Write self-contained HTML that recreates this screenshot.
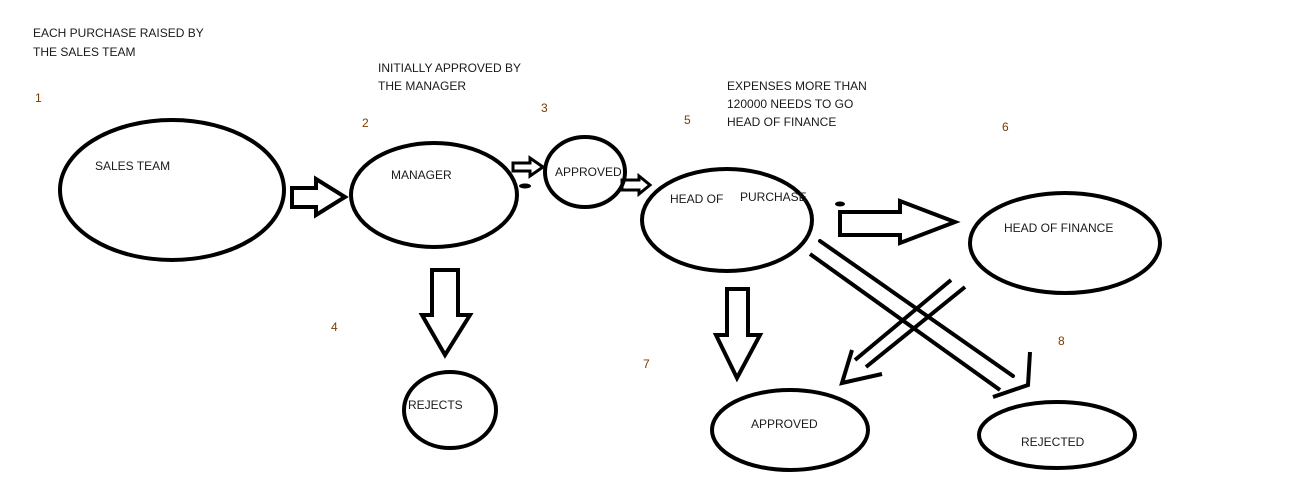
<!DOCTYPE html>
<html><head><style>
body{margin:0;background:#fff;width:1294px;height:489px;overflow:hidden}
svg{display:block}
text{font-family:"Liberation Sans",sans-serif;font-size:12px;fill:#1a1a1a}
.n{fill:#7a3a00}
</style></head><body>
<svg width="1294" height="489" viewBox="0 0 1294 489">
<g fill="none" stroke="#000" stroke-width="4">
<ellipse cx="172" cy="190" rx="112" ry="70"/>
<ellipse cx="434" cy="195" rx="83" ry="52"/>
<ellipse cx="585" cy="172" rx="40" ry="35"/>
<ellipse cx="727" cy="220" rx="85" ry="51"/>
<ellipse cx="1065" cy="243" rx="95" ry="50"/>
<ellipse cx="450" cy="410" rx="46" ry="38"/>
<ellipse cx="790" cy="430" rx="78" ry="40"/>
<ellipse cx="1057" cy="435" rx="78" ry="33"/>
<polygon points="292,188 316,188 316,179 345,197 316,215 316,207 292,207"/>
<polygon points="513,163 530,163 530,158 543,167 530,176 530,171 513,171" stroke-width="3"/>
<polygon points="622,180 639,180 639,176 650,185 639,194 639,190 622,190" stroke-width="3"/>
<polygon points="840,212 900,212 900,201 955,222 900,243 900,235 840,235"/>
<polygon points="432,270 458,270 458,315 470,315 445,355 422,315 432,315"/>
<polygon points="727,289 748,289 748,335 760,335 737,378 716,335 727,335"/>
<line x1="820" y1="241" x2="1013" y2="376" stroke-linecap="round"/>
<line x1="810" y1="254" x2="1000" y2="390"/>
<polyline points="1030,352 1028,385 993,397"/>
<line x1="951" y1="280" x2="855" y2="360"/>
<line x1="965" y1="287" x2="866" y2="367"/>
<polyline points="852,350 842,383 882,374"/>
</g>
<ellipse cx="525" cy="186" rx="6" ry="2.5" fill="#000"/>
<ellipse cx="840" cy="204" rx="5" ry="2.5" fill="#000"/>
<text x="33" y="37">EACH PURCHASE RAISED  BY</text>
<text x="33" y="56">THE SALES TEAM</text>
<text x="378" y="72">INITIALLY APPROVED BY</text>
<text x="378" y="90">THE MANAGER</text>
<text x="727" y="90">EXPENSES MORE THAN</text>
<text x="727" y="108">120000 NEEDS TO GO</text>
<text x="727" y="126">HEAD OF FINANCE</text>
<text class="n" x="35" y="102">1</text>
<text class="n" x="362" y="127">2</text>
<text class="n" x="541" y="112">3</text>
<text class="n" x="331" y="331">4</text>
<text class="n" x="684" y="124">5</text>
<text class="n" x="1002" y="131">6</text>
<text class="n" x="643" y="368">7</text>
<text class="n" x="1058" y="345">8</text>
<text x="95" y="170">SALES TEAM</text>
<text x="391" y="179">MANAGER</text>
<text x="555" y="176">APPROVED</text>
<text x="670" y="203">HEAD OF</text>
<text x="740" y="201">PURCHASE</text>
<text x="1004" y="232">HEAD OF FINANCE</text>
<text x="408" y="409">REJECTS</text>
<text x="751" y="428">APPROVED</text>
<text x="1021" y="446">REJECTED</text>
</svg>
</body></html>
